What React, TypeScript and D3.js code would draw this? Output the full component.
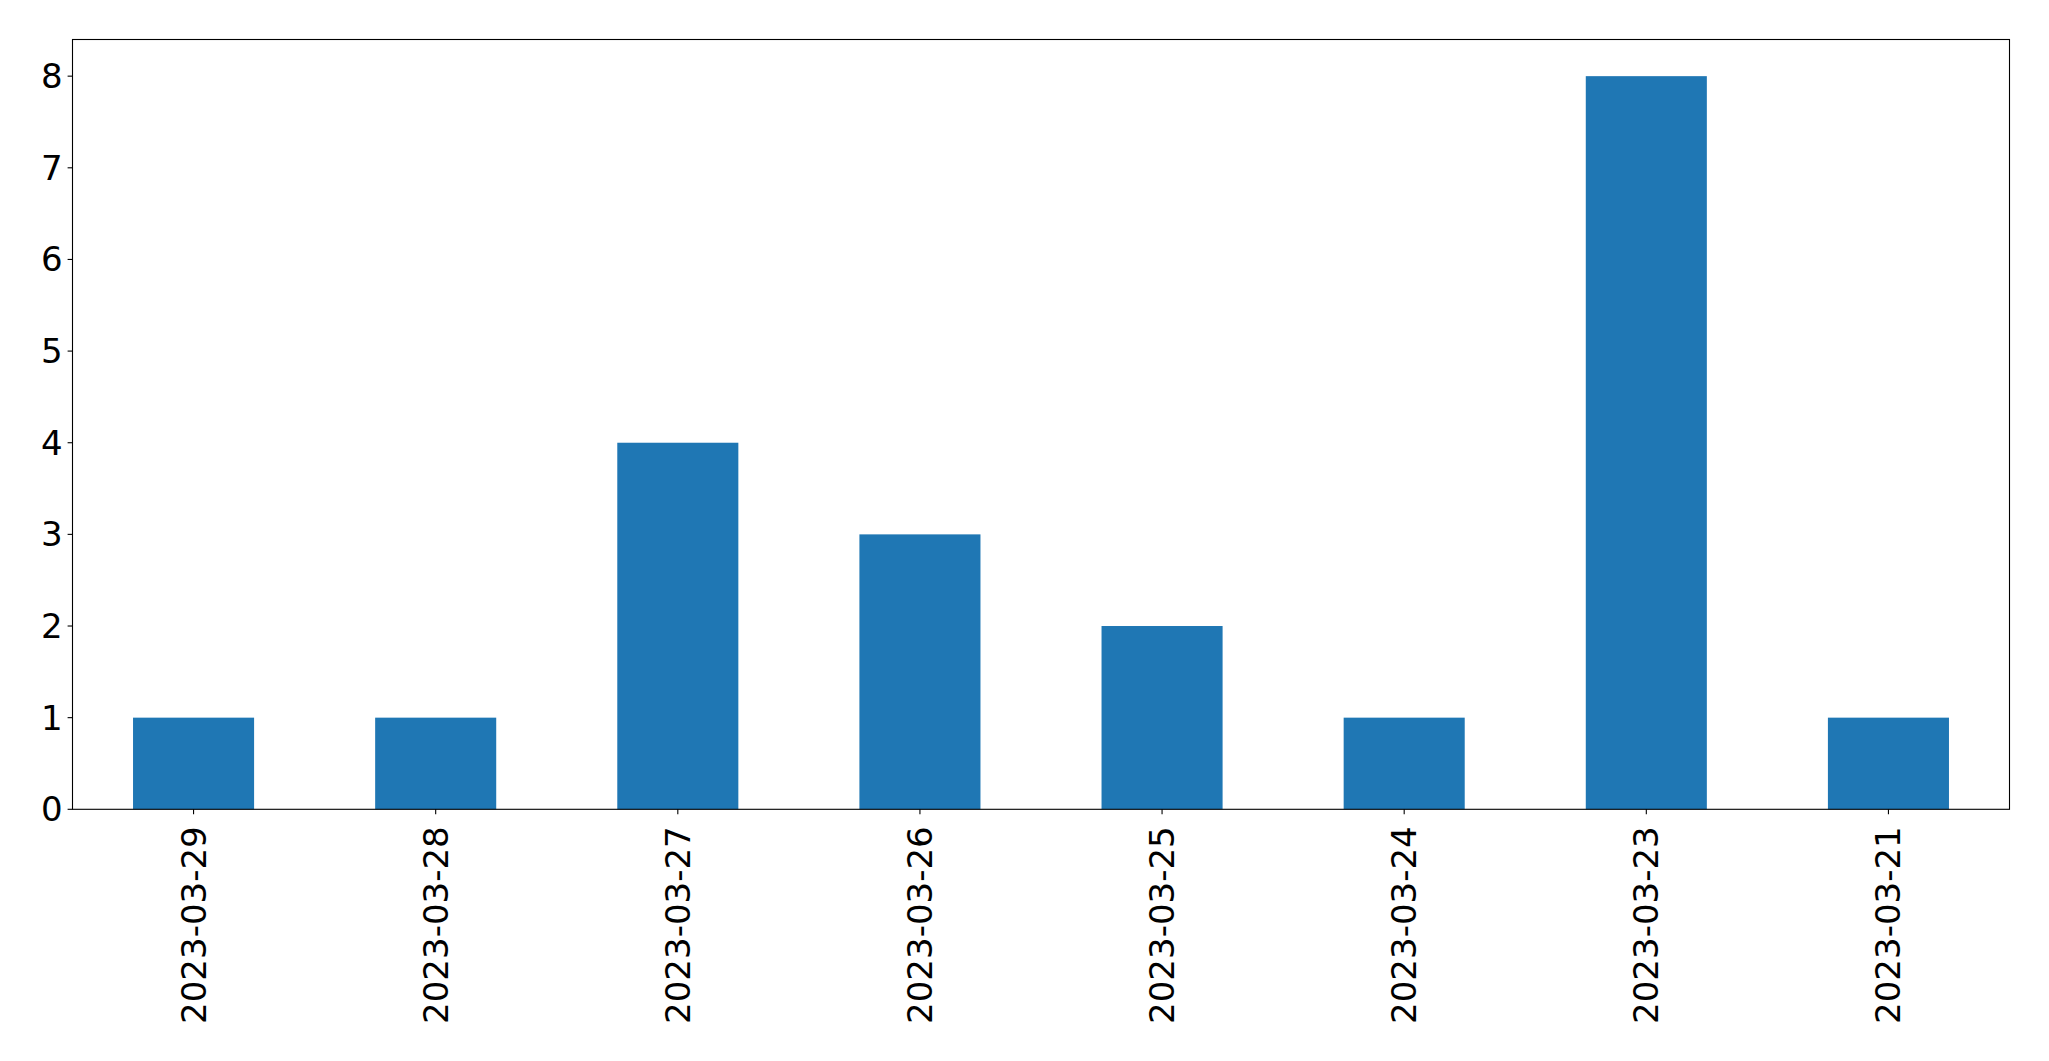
import React from "react";
import * as d3 from "d3";

const categories = ["2023-03-29", "2023-03-28", "2023-03-27", "2023-03-26", "2023-03-25", "2023-03-24", "2023-03-23", "2023-03-21"];
const counts = [1, 1, 4, 3, 2, 1, 8, 1];
const yTicks = [0, 1, 2, 3, 4, 5, 6, 7, 8];

const W = 2049;
const H = 1061;
const left = 72.5;
const right = 2009.5;
const top = 39.5;
const bottom = 809.3;
const font = "DejaVu Sans, sans-serif";
const fs = 34;

export default function App() {
  const x = d3.scaleBand<string>().domain(categories).range([left, right]).paddingInner(0.5).paddingOuter(0.25);
  const y = d3.scaleLinear().domain([0, 8.4]).range([bottom, top]);
  const bw = x.bandwidth();
  return (
    <svg width={W} height={H} style={{ position: "absolute", left: 0, top: 0, background: "#fff" }}>
      <rect x={0} y={0} width={W} height={H} fill="#fff" />
      {categories.map((c, i) => (
        <rect key={c} x={x(c)!} y={y(counts[i])} width={bw} height={y(0) - y(counts[i])} fill="#1f77b4" />
      ))}
      <rect x={left} y={top} width={right - left} height={bottom - top} fill="none" stroke="#000" strokeWidth={1.1} />
      {yTicks.map((t) => (
        <g key={t}>
          <line x1={left - 4.9} x2={left} y1={y(t)} y2={y(t)} stroke="#000" strokeWidth={1.1} />
          <text x={left - 9.8} y={y(t)} textAnchor="end" dominantBaseline="central" fontFamily={font} fontSize={fs} fill="#000">
            {t}
          </text>
        </g>
      ))}
      {categories.map((c) => {
        const cx = x(c)! + bw / 2;
        return (
          <g key={c}>
            <line x1={cx} x2={cx} y1={bottom} y2={bottom + 4.9} stroke="#000" strokeWidth={1.1} />
            <text
              transform={`translate(${cx},${bottom + 17}) rotate(-90)`}
              textAnchor="end"
              dominantBaseline="central"
              fontFamily={font}
              fontSize={fs}
              fill="#000"
            >
              {c}
            </text>
          </g>
        );
      })}
    </svg>
  );
}
